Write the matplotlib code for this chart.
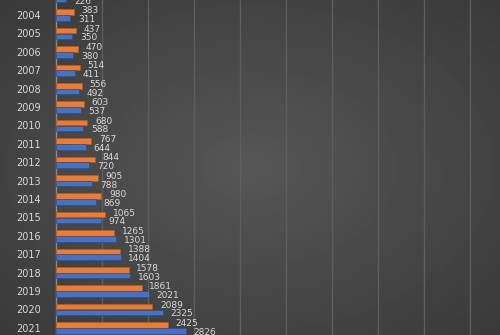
import numpy as np
import matplotlib
matplotlib.use("Agg")
import matplotlib.pyplot as plt

years = list(range(2003, 2022))
# orange series (top bar of each pair); 2003 value is off the picture
orange = [270, 383, 437, 470, 514, 556, 603, 680, 767, 844, 905, 980,
          1065, 1265, 1388, 1578, 1861, 2089, 2425]
# blue series (lower bar of each pair)
blue = [226, 311, 350, 380, 411, 492, 537, 588, 644, 720, 788, 869,
        974, 1301, 1404, 1603, 2021, 2325, 2826]

fig = plt.figure(figsize=(5, 3.35), dpi=100)

# dark radial background
bg = fig.add_axes([0, 0, 1, 1], zorder=-5)
gx, gy = np.meshgrid(np.linspace(-1, 1, 300), np.linspace(-1, 1, 200))
r = np.sqrt(gx**2 + gy**2)
bg.imshow(0.34 - 0.08 * r, cmap="gray", vmin=0, vmax=1, aspect="auto",
          extent=[0, 1, 0, 1])
bg.axis("off")

ax = fig.add_axes([56 / 500, 0, 1 - 56 / 500, 1])
ax.patch.set_alpha(0)

pos = np.arange(len(years))
h = 0.30
ax.barh(pos - 0.15, orange, height=h, color="#EE7B30", edgecolor="#b85a1c",
        linewidth=0.5, zorder=3)
ax.barh(pos + 0.16, blue, height=h, color="#4472C4", edgecolor="#2c4f8f",
        linewidth=0.5, zorder=3)

for i in range(len(years)):
    if i > 0:  # 2003 orange label sits above the visible area
        ax.text(orange[i] + 170, pos[i] - 0.23, str(orange[i]), color="#d9d9d9",
                fontsize=6.5, va="center", ha="left")
    ax.text(blue[i] + 170, pos[i] + 0.25, str(blue[i]), color="#d9d9d9",
            fontsize=6.5, va="center", ha="left")

ax.set_xlim(0, 9650)
ax.set_ylim(1 + 320 / 18.4, 1 - 15 / 18.4)
ax.set_xticks(range(1000, 10000, 1000))
ax.grid(axis="x", color="#5e5e5e", linewidth=1, zorder=0)
ax.set_yticks(pos[1:])
ax.set_yticklabels([str(y) for y in years[1:]], color="#d9d9d9", fontsize=7)
ax.tick_params(axis="y", length=0, pad=11)
ax.tick_params(axis="x", length=0, labelbottom=False)
for s in ["top", "right", "bottom"]:
    ax.spines[s].set_visible(False)
ax.spines["left"].set_color("#8a8a8a")
ax.spines["left"].set_linewidth(1)

fig.savefig("out.png", dpi=100)
